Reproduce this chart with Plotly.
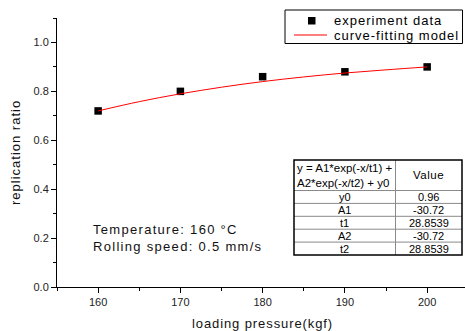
import plotly.graph_objects as go

# Data
pressure = [160, 170, 180, 190, 200]
ratio = [0.72, 0.80, 0.86, 0.88, 0.90]
fit_x = [160, 165, 170, 175, 180, 185, 190, 195, 200]
fit_y = [0.720, 0.758, 0.790, 0.817, 0.840, 0.859, 0.875, 0.888, 0.900]
x_ticks = [160, 170, 180, 190, 200]
y_ticks = [0.0, 0.2, 0.4, 0.6, 0.8, 1.0]
series_names = ["experiment data", "curve-fitting model"]
table_header = ["y = A1*exp(-x/t1) +<br>A2*exp(-x/t2) + y0", "Value"]
param_names = ["y0", "A1", "t1", "A2", "t2"]
param_values = ["0.96", "-30.72", "28.8539", "-30.72", "28.8539"]
notes = ["Temperature: 160 °C", "Rolling speed: 0.5 mm/s"]

W, H = 465, 331
L, R, T, B = 57, 0, 18, 44
PW, PH = W - L - R, H - T - B


def px(x):
    return (x - L) / PW


def py(y):
    return (H - B - y) / PH


def spaced(text, ls):
    return f'<span style="letter-spacing:{ls}px">{text}</span>'


FONT = "Liberation Sans, Arial, sans-serif"

fig = go.Figure()
fig.add_trace(go.Scatter(
    x=pressure, y=ratio, mode="markers", name=series_names[0],
    marker=dict(symbol="square", size=7.5, color="black"),
))
fig.add_trace(go.Scatter(
    x=fit_x, y=fit_y, mode="lines", name=series_names[1],
    line=dict(color="red", width=1, shape="spline"),
))

axis_common = dict(
    showgrid=False, zeroline=False, showline=True, linecolor="black", linewidth=1,
    ticks="outside", ticklen=5, tickwidth=1, tickcolor="black",
    tickfont=dict(family=FONT, size=11, color="#222"),
    minor=dict(ticks="outside", ticklen=3, tickwidth=1, tickcolor="black"),
)

fig.update_xaxes(range=[155, 204.6], tickvals=x_ticks, ticktext=[str(v) for v in x_ticks],
                 minor_dtick=5, **axis_common)
fig.update_yaxes(range=[0, 1.1], tickvals=y_ticks, ticktext=[f"{v:.1f}" for v in y_ticks],
                 minor_dtick=0.1, **axis_common)

shapes = []
annotations = []

# Axis titles
title_font = dict(family=FONT, size=13, color="#111")
annotations.append(dict(xref="paper", yref="paper", x=px(262), y=py(323.5),
                        text=spaced("loading pressure(kgf)", 0.9), showarrow=False,
                        xanchor="center", yanchor="middle", font=title_font))
annotations.append(dict(xref="paper", yref="paper", x=px(15), y=py(153),
                        text=spaced("replication ratio", 1.0), showarrow=False, textangle=-90,
                        xanchor="center", yanchor="middle", font=title_font))

# Legend (drawn box)
lx0, lx1, ly0, ly1 = 285, 462.5, 10, 43.5
shapes.append(dict(type="rect", xref="paper", yref="paper", x0=px(lx0), x1=px(lx1),
                   y0=py(ly0), y1=py(ly1), line=dict(color="black", width=1),
                   fillcolor="white", layer="above"))
shapes.append(dict(type="rect", xref="paper", yref="paper", x0=px(308), x1=px(315.5),
                   y0=py(17), y1=py(24.5), line=dict(width=0), fillcolor="black", layer="above"))
shapes.append(dict(type="line", xref="paper", yref="paper", x0=px(294), x1=px(327),
                   y0=py(35), y1=py(35), line=dict(color="red", width=1), layer="above"))
leg_font = dict(family=FONT, size=13, color="black")
for name, yc in zip(series_names, [20.7, 35]):
    annotations.append(dict(xref="paper", yref="paper", x=px(331.5), y=py(yc),
                            text=spaced(name, 1.0), showarrow=False,
                            xanchor="left", yanchor="middle", font=leg_font))

# Table
tx0, tx1, tdiv = 294, 462, 395.5
ty0 = 160
header_bottom = 190.5
row_h = 12.9
rows_y = [header_bottom + i * row_h for i in range(len(param_names) + 1)]
ty1 = rows_y[-1]
grey = "#8a8a8a"
for y in rows_y[:-1]:
    shapes.append(dict(type="line", xref="paper", yref="paper", x0=px(tx0), x1=px(tx1),
                       y0=py(y), y1=py(y), line=dict(color=grey, width=1)))
shapes.append(dict(type="line", xref="paper", yref="paper", x0=px(tdiv), x1=px(tdiv),
                   y0=py(ty0), y1=py(ty1), line=dict(color=grey, width=1)))
shapes.append(dict(type="rect", xref="paper", yref="paper", x0=px(tx0), x1=px(tx1),
                   y0=py(ty0), y1=py(ty1), line=dict(color="black", width=1.5)))

hfont = dict(family=FONT, size=11.5, color="black")
tfont = dict(family=FONT, size=11, color="black")
annotations.append(dict(xref="paper", yref="paper", x=px(tx0 + 0.5), y=py((ty0 + header_bottom) / 2),
                        text=table_header[0], showarrow=False, xanchor="left", yanchor="middle",
                        align="left", font=hfont))
annotations.append(dict(xref="paper", yref="paper", x=px((tdiv + tx1) / 2), y=py((ty0 + header_bottom) / 2),
                        text=spaced(table_header[1], 0.5), showarrow=False, xanchor="center",
                        yanchor="middle", font=hfont))
for i, (n, v) in enumerate(zip(param_names, param_values)):
    yc = py(rows_y[i] + row_h / 2)
    annotations.append(dict(xref="paper", yref="paper", x=px((tx0 + tdiv) / 2), y=yc, text=n,
                            showarrow=False, xanchor="center", yanchor="middle", font=tfont))
    annotations.append(dict(xref="paper", yref="paper", x=px((tdiv + tx1) / 2), y=yc, text=v,
                            showarrow=False, xanchor="center", yanchor="middle", font=tfont))

# Notes
for t, yc in zip(notes, [229.5, 246]):
    annotations.append(dict(xref="paper", yref="paper", x=px(91), y=py(yc), text=spaced(t, 1.3),
                            showarrow=False, xanchor="left", yanchor="middle",
                            font=dict(family=FONT, size=13, color="#111")))

fig.update_layout(
    width=W, height=H,
    margin=dict(l=L, r=R, t=T, b=B),
    paper_bgcolor="white", plot_bgcolor="white",
    showlegend=False,
    shapes=shapes, annotations=annotations,
)

fig.write_html("out.html", config={"displayModeBar": False},
               post_script="document.body.style.margin='0';")
